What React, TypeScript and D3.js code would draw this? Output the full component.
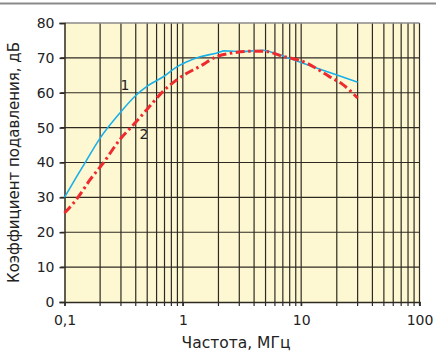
import React, { useEffect, useRef } from 'react';
import * as d3 from 'd3';

const freq1 = [0.1, 0.127, 0.149, 0.2, 0.294, 0.394, 0.5, 0.7, 0.87, 1.07, 1.4, 1.95, 2.25, 3.2, 4.75, 6.0, 8.5, 13.3, 19.5, 30];
const level1 = [30, 36, 39.9, 47, 54.2, 59, 61.9, 64.8, 67.2, 68.8, 70.3, 71.4, 72.0, 71.8, 72.2, 71.3, 69.5, 67.2, 65.2, 63];

const freq2 = [0.1, 0.13, 0.164, 0.213, 0.294, 0.394, 0.51, 0.68, 0.94, 1.4, 1.95, 2.5, 3.9, 4.9, 6.9, 11.0, 17.2, 22.4, 30];
const level2 = [25.5, 30, 35, 39.9, 46.6, 51.3, 55.6, 60.4, 64.3, 67.6, 70.4, 71.3, 71.9, 71.9, 70.5, 68.6, 64.7, 62.4, 58.5];

const yTicks = [0, 10, 20, 30, 40, 50, 60, 70, 80];
const xLabels = [
  { v: 0.1, t: '0,1' },
  { v: 1, t: '1' },
  { v: 10, t: '10' },
  { v: 100, t: '100' },
];

export default function App() {
  const ref = useRef<SVGSVGElement>(null);

  useEffect(() => {
    if (!ref.current) return;
    const svg = d3.select(ref.current);
    svg.selectAll('*').remove();

    const left = 64.5, right = 419.5, top = 23, bottom = 302;
    const font = '"DejaVu Sans", sans-serif';

    const x = d3.scaleLog().domain([0.1, 100]).range([left, right]);
    const y = d3.scaleLinear().domain([0, 80]).range([bottom, top]);

    // top rule
    svg.append('line')
      .attr('x1', 0).attr('x2', 436).attr('y1', 3.5).attr('y2', 3.5)
      .attr('stroke', '#8a8a8a').attr('stroke-width', 2);

    // plot background
    svg.append('rect')
      .attr('x', left).attr('y', top)
      .attr('width', right - left).attr('height', bottom - top)
      .attr('fill', '#fef8d2');

    // grid
    const minor: number[] = [];
    for (const dec of [0.1, 1, 10]) {
      for (let k = 2; k <= 9; k++) minor.push(dec * k);
    }
    const grid = svg.append('g').attr('stroke', '#2e2a22').attr('stroke-width', 1.2);
    grid.selectAll('.vx')
      .data([...minor, 1, 10, 100])
      .enter().append('line')
      .attr('x1', d => x(d)).attr('x2', d => x(d))
      .attr('y1', top).attr('y2', bottom + 4);
    grid.selectAll('.hy')
      .data(yTicks.filter(v => v > 0 && v < 80))
      .enter().append('line')
      .attr('x1', left - 4).attr('x2', right)
      .attr('y1', d => y(d)).attr('y2', d => y(d));

    // frame top
    svg.append('line')
      .attr('x1', left).attr('x2', right).attr('y1', top).attr('y2', top)
      .attr('stroke', '#8a8a8a').attr('stroke-width', 1.5);

    // axes
    const yAxis = svg.append('g')
      .attr('transform', `translate(${left},0)`)
      .call(d3.axisLeft(y).tickValues(yTicks).tickSize(5).tickPadding(5).tickFormat(d3.format('d')));
    yAxis.select('.domain').attr('stroke', '#2e2a22').attr('stroke-width', 1.5);
    yAxis.selectAll('.tick line').attr('stroke', '#2e2a22').attr('stroke-width', 1.5);
    yAxis.selectAll('text').attr('font-family', font).attr('font-size', 14).attr('fill', '#222');

    const xAxis = svg.append('g')
      .attr('transform', `translate(0,${bottom})`)
      .call(d3.axisBottom(x).tickValues(xLabels.map(d => d.v)).tickSize(4).tickPadding(9)
        .tickFormat((d) => xLabels.find(l => l.v === +d)?.t ?? ''));
    xAxis.select('.domain').attr('stroke', '#2e2a22').attr('stroke-width', 1.5);
    xAxis.selectAll('.tick line').attr('stroke', '#2e2a22').attr('stroke-width', 1.2);
    xAxis.selectAll('text').attr('font-family', font).attr('font-size', 14).attr('fill', '#222');

    // curves
    const line = d3.line<[number, number]>()
      .x(d => x(d[0]))
      .y(d => y(d[1]))
      .curve(d3.curveMonotoneX);

    svg.append('path')
      .datum(freq1.map((f, i) => [f, level1[i]] as [number, number]))
      .attr('fill', 'none')
      .attr('stroke', '#1ab0e8')
      .attr('stroke-width', 1.6)
      .attr('d', line);

    svg.append('path')
      .datum(freq2.map((f, i) => [f, level2[i]] as [number, number]))
      .attr('fill', 'none')
      .attr('stroke', '#ee2a2e')
      .attr('stroke-width', 3)
      .attr('stroke-dasharray', '9 3.5 2.5 3.5')
      .attr('d', line);

    // curve labels
    svg.append('text')
      .attr('x', 125).attr('y', 90)
      .attr('text-anchor', 'middle')
      .attr('font-family', font).attr('font-size', 14).attr('fill', '#222')
      .text('1');
    svg.append('text')
      .attr('x', 144).attr('y', 139)
      .attr('text-anchor', 'middle')
      .attr('font-family', font).attr('font-size', 14).attr('fill', '#222')
      .text('2');

    // titles
    svg.append('text')
      .attr('transform', `translate(19,${(top + bottom) / 2}) rotate(-90)`)
      .attr('text-anchor', 'middle')
      .attr('font-family', font).attr('font-size', 15).attr('fill', '#222')
      .text('Коэффициент подавления, дБ');
    svg.append('text')
      .attr('x', 236).attr('y', 348)
      .attr('text-anchor', 'middle')
      .attr('font-family', font).attr('font-size', 15.5).attr('fill', '#222')
      .text('Частота, МГц');
  }, []);

  return (
    <svg
      ref={ref}
      width={436}
      height={355}
      style={{ position: 'absolute', left: 0, top: 0, background: '#fff' }}
    />
  );
}
